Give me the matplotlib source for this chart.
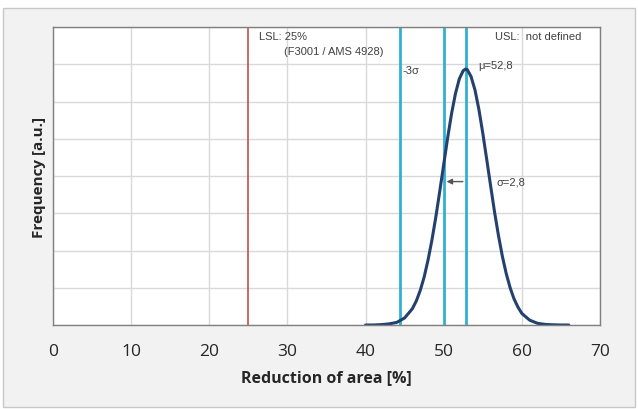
import numpy as np
import matplotlib
matplotlib.use("Agg")
from matplotlib import pyplot as plt
from matplotlib.patches import Rectangle

# distribution curve (x in %, y in a.u.)
curveX = [40, 41, 42, 43, 44, 45, 46, 46.5, 47, 47.5, 48, 48.5, 49, 49.5, 50, 50.5,
          51, 51.5, 52, 52.5, 52.8, 53, 53.5, 54, 54.5, 55, 55.5, 56, 56.5, 57, 57.5,
          58, 58.5, 59, 59.5, 60, 61, 62, 63, 64, 65, 66]
curveY = [0.0, 0.0, 0.01, 0.03, 0.07, 0.19, 0.44, 0.65, 0.93, 1.29, 1.75, 2.29, 2.91, 3.60,
          4.31, 5.02, 5.67, 6.21, 6.61, 6.83, 6.87, 6.86, 6.67, 6.31, 5.79, 5.15, 4.45,
          3.74, 3.04, 2.41, 1.85, 1.38, 1.00, 0.70, 0.48, 0.31, 0.13, 0.045, 0.015, 0.005,
          0.0, 0.0]

lsl = 25
mu = 52.8
sigma = 2.8
minus3 = 44.4
minus1 = 50.0
xTicks = [0, 10, 20, 30, 40, 50, 60, 70]

fig = plt.figure(figsize=(6.38, 4.10), dpi=100)
fig.patch.set_facecolor("white")
fig.patches.append(Rectangle((3 / 638, 2 / 410), 632 / 638, 399 / 410, transform=fig.transFigure,
                             facecolor="#f2f2f2", edgecolor="#c8c8c8", lw=1, zorder=-10))

ax = fig.add_axes([53 / 638, 1 - 326 / 410, 547 / 638, 298 / 410])
ax.set_facecolor("white")
ax.set_xlim(0, 70)
ax.set_ylim(0, 8)
ax.set_xticks(xTicks)
ax.set_yticks(range(0, 9))
ax.set_yticklabels([])
ax.grid(True, color="#d9d9d9", lw=1)
ax.set_axisbelow(True)
ax.tick_params(axis="x", length=0, pad=13, labelsize=12.5, colors="#262626")
ax.tick_params(axis="y", length=0, pad=0)
for lab in ax.get_xticklabels():
    lab.set_family("Open Sans")
for s in ax.spines.values():
    s.set_color("#808080")
    s.set_linewidth(1)

# limit and sigma lines
ax.axvline(lsl, color="#c0504d", lw=1.2)
for v in (minus3, minus1, mu):
    ax.axvline(v, color="#31b0d2", lw=2)

ax.plot(curveX, curveY, color="#24406e", lw=2.2, solid_capstyle="round")

ax.annotate("", xy=(minus1, 3.85), xytext=(mu, 3.85),
            arrowprops=dict(arrowstyle="-|>", color="#555555", lw=1, mutation_scale=8))

txt = dict(fontsize=8, color="#404040", family="Liberation Sans")
ax.text(26.3, 7.75, "LSL: 25%", va="center", **txt)
ax.text(29.6, 7.35, "(F3001 / AMS 4928)", va="center", **txt)
ax.text(44.7, 6.85, "-3\u03c3", va="center", **txt)
ax.text(54.4, 6.97, "\u03bc=52,8", va="center", **txt)
ax.text(56.6, 7.75, "USL:  not defined", va="center", **txt)
ax.text(56.7, 3.85, "\u03c3=2,8", va="center", **txt)

ax.set_xlabel("Reduction of area [%]", fontsize=11.5, fontweight="bold", family="Open Sans",
              color="#262626", labelpad=7)
ax.set_ylabel("Frequency [a.u.]", fontsize=11, fontweight="bold", family="Open Sans",
              color="#262626", labelpad=5)

fig.savefig("out.png", dpi=100, facecolor=fig.get_facecolor())
